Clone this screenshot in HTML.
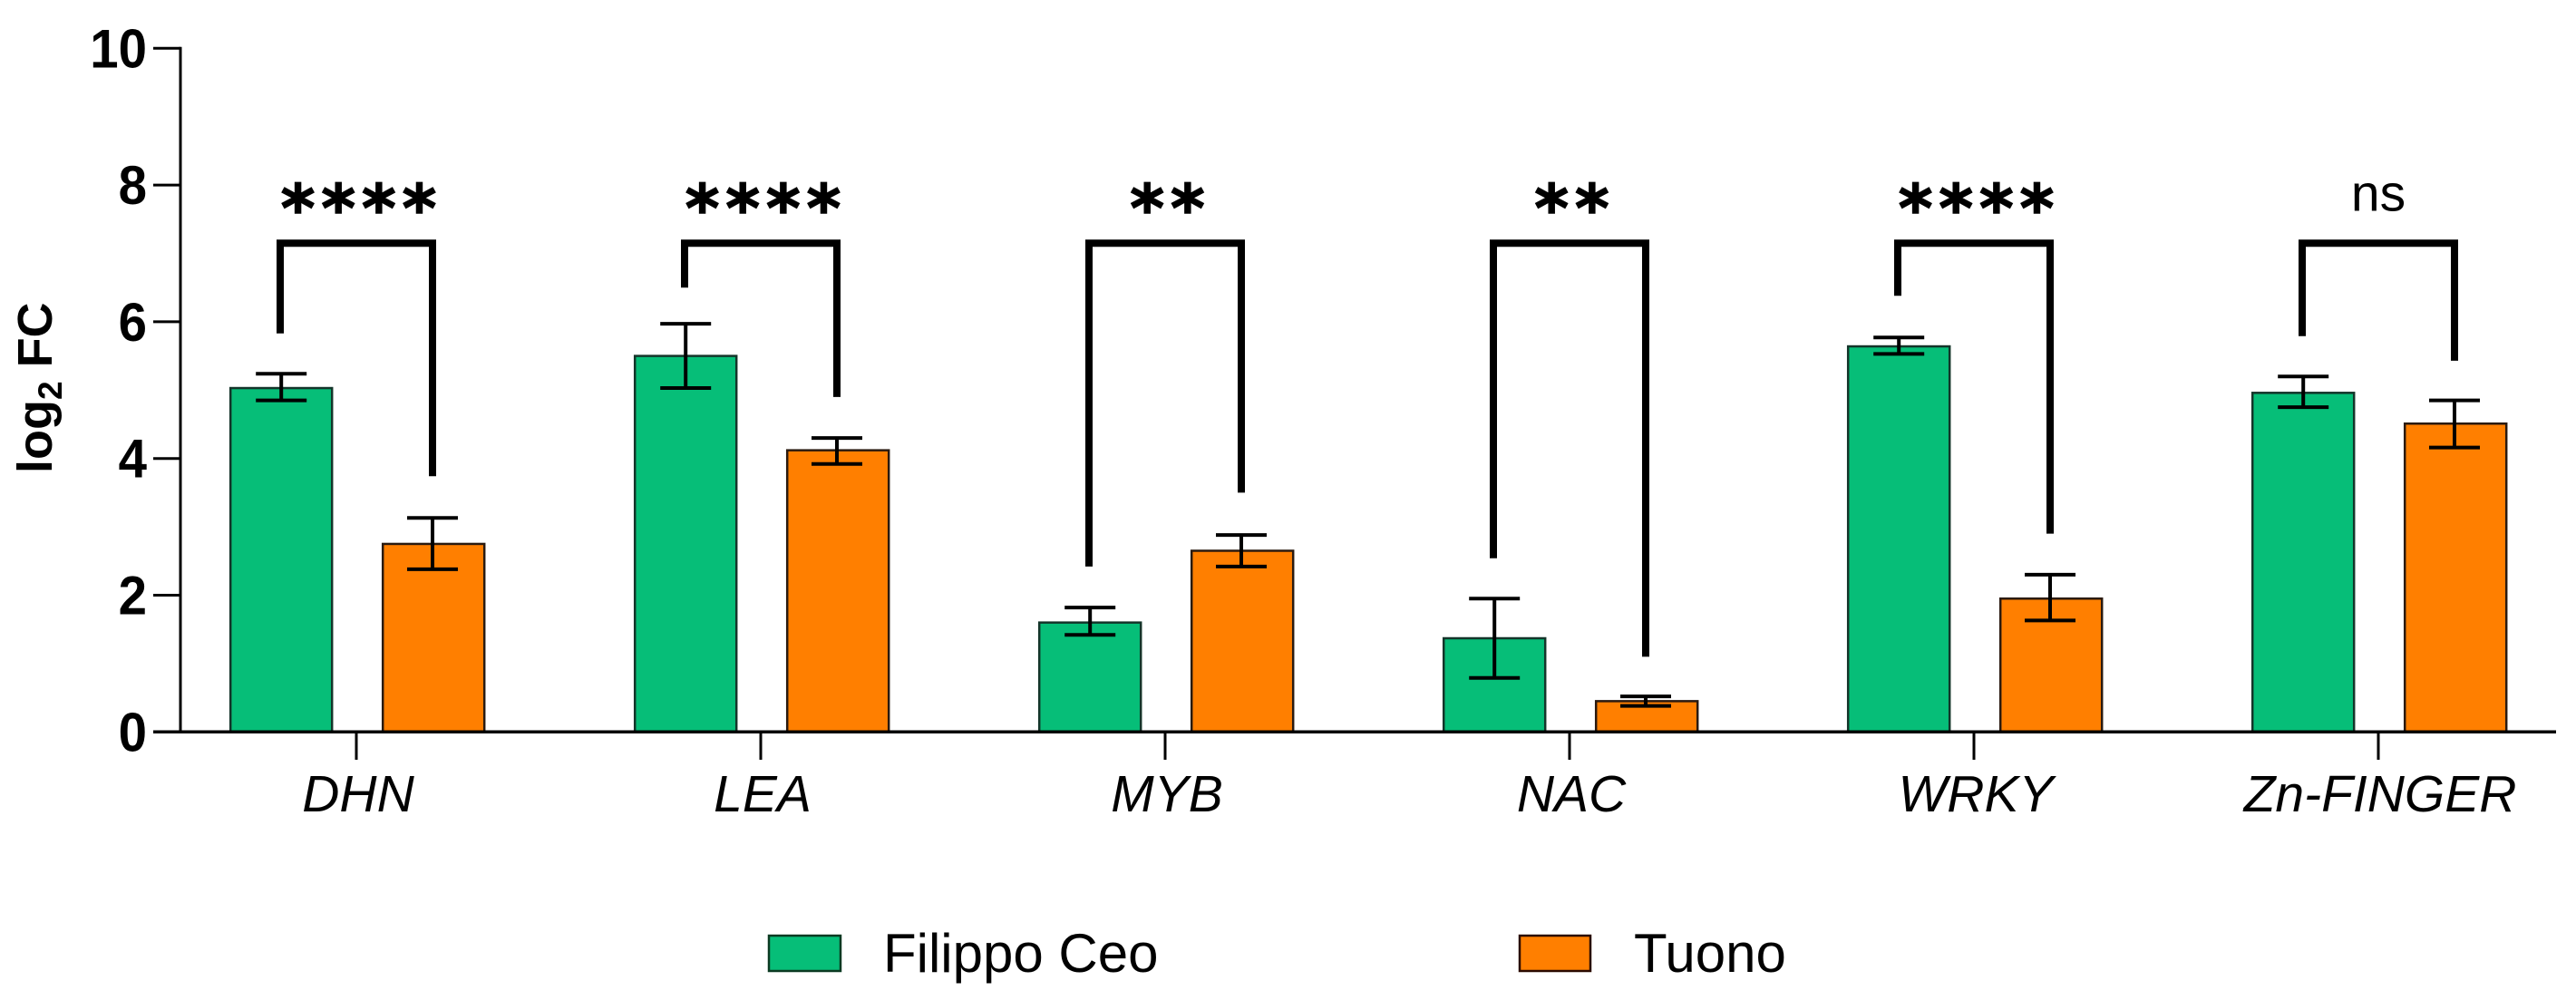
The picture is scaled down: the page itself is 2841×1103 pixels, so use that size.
<!DOCTYPE html>
<html lang="en">
<head>
<meta charset="utf-8">
<title>log2 FC bar chart</title>
<style>
html,body{margin:0;padding:0;background:#fff;}
svg{display:block;}
text{font-family:"Liberation Sans",Arial,sans-serif;fill:#000;}
</style>
</head>
<body>
<svg id="chart" xmlns="http://www.w3.org/2000/svg" width="2841" height="1103" viewBox="0 0 2841 1103">
  <rect x="0" y="0" width="2841" height="1103" fill="#ffffff"/>
  <g id="bars"></g>
  <g id="errors"></g>
  <g id="brackets"></g>
  <g id="axes"></g>
  <text transform="translate(57,522) rotate(-90)" font-size="54" font-weight="700">log<tspan font-size="37" dy="11">2</tspan><tspan font-size="54" dy="-11"> FC</tspan></text>
  <g>
    <rect x="848" y="1032" width="79" height="39" fill="#06be78" stroke="#0c3a22" stroke-width="2.5"/>
    <text x="974" y="1072" font-size="60">Filippo Ceo</text>
    <rect x="1676" y="1032" width="78" height="39" fill="#ff7f00" stroke="#2a0a00" stroke-width="2.5"/>
    <text x="1802" y="1072" font-size="60">Tuono</text>
  </g>
</svg>
<script>
const categories = ['DHN', 'LEA', 'MYB', 'NAC', 'WRKY', 'Zn-FINGER'];
const seriesNames = ['Filippo Ceo', 'Tuono'];
const filippoValues = [5.03, 5.50, 1.60, 1.37, 5.64, 4.96];
const filippoErrHigh = [5.24, 5.97, 1.82, 1.95, 5.77, 5.20];
const filippoErrLow = [4.85, 5.03, 1.42, 0.79, 5.53, 4.75];
const tuonoValues = [2.75, 4.12, 2.65, 0.45, 1.95, 4.51];
const tuonoErrHigh = [3.13, 4.30, 2.88, 0.52, 2.30, 4.85];
const tuonoErrLow = [2.38, 3.92, 2.42, 0.38, 1.63, 4.16];
const significance = ['****', '****', '**', '**', '****', 'ns'];
const bracketTop = 7.15;
const bracketLeftFoot = [5.83, 6.50, 2.42, 2.54, 6.38, 5.79];
const bracketRightFoot = [3.74, 4.90, 3.50, 1.10, 2.90, 5.43];
const yTicks = [0, 2, 4, 6, 8, 10];

const SVGNS = 'http://www.w3.org/2000/svg';
const yScale = v => 807.3 - v * 75.4;
const groupCenter = i => 393 + i * 446;
const barOffset = 84;
const barShift = 1.2;
const barHalf = 56;
const capHalf = 28;

function line(parent, x1, y1, x2, y2, width, color) {
  const el = document.createElementNS(SVGNS, 'line');
  el.setAttribute('x1', x1);
  el.setAttribute('y1', y1);
  el.setAttribute('x2', x2);
  el.setAttribute('y2', y2);
  el.setAttribute('stroke', color);
  el.setAttribute('stroke-width', width);
  parent.appendChild(el);
  return el;
}

const barsG = document.getElementById('bars');
const errorsG = document.getElementById('errors');
const bracketsG = document.getElementById('brackets');
const axesG = document.getElementById('axes');

function drawBar(cx, value, fill, stroke, name) {
  const el = document.createElementNS(SVGNS, 'rect');
  
  
  el.setAttribute('x', cx - barHalf);
  el.setAttribute('y', yScale(value));
  el.setAttribute('width', barHalf * 2);
  el.setAttribute('height', yScale(0) - yScale(value));
  el.setAttribute('fill', fill);
  el.setAttribute('stroke', stroke);
  el.setAttribute('stroke-width', '2.5');
  barsG.appendChild(el);
}

function drawError(cx, high, low, name) {
  const g = document.createElementNS(SVGNS, 'g');
  
  
  line(g, cx, yScale(high), cx, yScale(low), 4, '#000');
  line(g, cx - capHalf, yScale(high), cx + capHalf, yScale(high), 4, '#000');
  line(g, cx - capHalf, yScale(low), cx + capHalf, yScale(low), 4, '#000');
  errorsG.appendChild(g);
}

categories.forEach((cat, i) => {
  const c = groupCenter(i);
  const key = cat.toLowerCase();
  drawBar(c - barOffset + barShift, filippoValues[i], '#06be78', '#14352a', 'bar-filippo-ceo-' + key);
  drawBar(c + barOffset + barShift, tuonoValues[i], '#ff7f00', '#2a1a10', 'bar-tuono-' + key);
  drawError(c - barOffset + barShift, filippoErrHigh[i], filippoErrLow[i], 'error-bar-filippo-ceo-' + key);
  drawError(c + barOffset, tuonoErrHigh[i], tuonoErrLow[i], 'error-bar-tuono-' + key);

  const bracket = document.createElementNS(SVGNS, 'polyline');
  
  
  bracket.setAttribute('points',
    (c - barOffset) + ',' + yScale(bracketLeftFoot[i]) + ' ' +
    (c - barOffset) + ',' + yScale(bracketTop) + ' ' +
    (c + barOffset) + ',' + yScale(bracketTop) + ' ' +
    (c + barOffset) + ',' + yScale(bracketRightFoot[i]));
  bracket.setAttribute('fill', 'none');
  bracket.setAttribute('stroke', '#000');
  bracket.setAttribute('stroke-width', '8');
  bracket.setAttribute('stroke-linejoin', 'miter');
  bracketsG.appendChild(bracket);

  const sig = document.createElementNS(SVGNS, 'text');
  
  
  const isNs = significance[i] === 'ns';
  sig.setAttribute('x', isNs ? c : c + 6);
  sig.setAttribute('y', isNs ? 232.5 : 255);
  sig.setAttribute('text-anchor', 'middle');
  if (isNs) {
    sig.setAttribute('font-size', '57');
  } else {
    sig.setAttribute('font-size', '72');
    sig.setAttribute('font-weight', '700');
    sig.setAttribute('letter-spacing', '7');
    sig.setAttribute('stroke', '#000');
    sig.setAttribute('stroke-width', '1.5');
    sig.setAttribute('style', 'font-family:"DejaVu Sans",sans-serif');
  }
  sig.textContent = significance[i];
  bracketsG.appendChild(sig);

  const tick = line(axesG, c, yScale(0), c, 838, 3, '#000');
  
  

  const label = document.createElementNS(SVGNS, 'text');
  
  
  label.setAttribute('x', c + 2);
  label.setAttribute('y', 895);
  label.setAttribute('text-anchor', 'middle');
  label.setAttribute('font-size', '57');
  label.setAttribute('font-style', 'italic');
  label.textContent = cat;
  axesG.appendChild(label);
});

const yAxis = line(axesG, 199, yScale(10) - 1.5, 199, yScale(0), 3, '#000');



const xAxis = line(axesG, 169, yScale(0), 2819, yScale(0), 3.5, '#000');



yTicks.forEach(t => {
  const tick = line(axesG, 169, yScale(t), 199, yScale(t), 3, '#000');
  
  

  const label = document.createElementNS(SVGNS, 'text');
  
  
  label.setAttribute('transform', 'translate(162,' + (yScale(t) + 21) + ') scale(0.94,1)');
  label.setAttribute('text-anchor', 'end');
  label.setAttribute('font-size', '60');
  label.setAttribute('font-weight', '700');
  label.textContent = t;
  axesG.appendChild(label);
});
</script>
</body>
</html>
